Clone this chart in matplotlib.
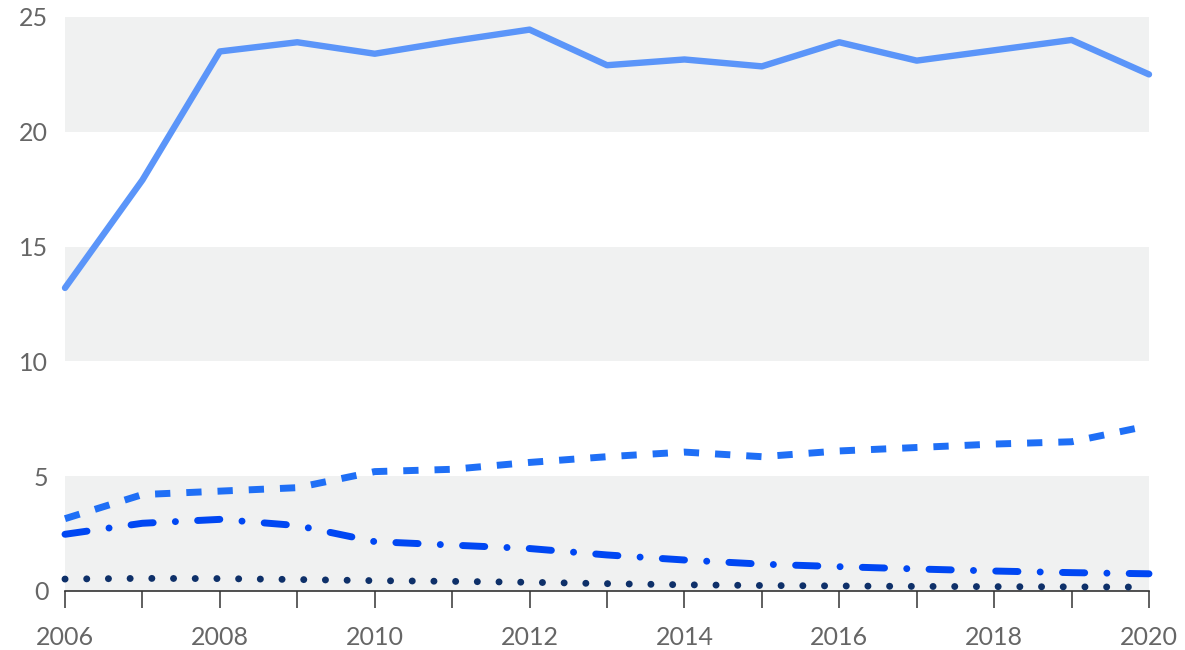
import matplotlib.pyplot as plt
import numpy as np

years = list(range(2006, 2021))

# values
series_solid = [13.2, 17.9, 23.5, 23.9, 23.4, 23.95, 24.45, 22.9, 23.15, 22.85, 23.9, 23.1, 23.55, 24.0, 22.5]
series_dashed = [3.15, 4.2, 4.35, 4.5, 5.2, 5.3, 5.6, 5.85, 6.05, 5.85, 6.1, 6.25, 6.4, 6.5, 7.2]
series_dashdot = [2.47, 2.95, 3.12, 2.85, 2.15, 2.0, 1.85, 1.57, 1.35, 1.17, 1.06, 0.96, 0.87, 0.8, 0.75]
series_dotted = [0.52, 0.55, 0.54, 0.5, 0.45, 0.42, 0.38, 0.32, 0.27, 0.24, 0.22, 0.2, 0.19, 0.18, 0.17]

y_ticks = [0, 5, 10, 15, 20, 25]
x_labels = [2006, 2008, 2010, 2012, 2014, 2016, 2018, 2020]

plt.rcParams['font.family'] = ['Lato', 'DejaVu Sans']

fig = plt.figure(figsize=(11.85, 6.5), dpi=100)
ax = fig.add_axes([65 / 1185, 1 - 591 / 650, (1149 - 65) / 1185, (591 - 17) / 650])

# grey bands every other 5 units
for lo in [0, 10, 20]:
    ax.axhspan(lo, lo + 5, color='#f0f1f1', lw=0, zorder=0)

ax.plot(years, series_solid, color='#5b95f9', lw=4.6, solid_capstyle='round',
        solid_joinstyle='round', zorder=3, clip_on=False)
ax.plot(years, series_dashed, color='#1f6ff6', lw=5, dash_capstyle='butt',
        dashes=(2.2, 2.3), zorder=3, clip_on=False)
ax.plot(years, series_dashdot, color='#0047f3', lw=5, dash_capstyle='round',
        dashes=(3.2, 3.2, 0.01, 3.2), zorder=3, clip_on=False)
ax.plot(years, series_dotted, color='#0e3069', lw=5, dash_capstyle='round',
        dashes=(0.01, 3.115), zorder=3, clip_on=False)

ax.set_xlim(2006, 2020)
ax.set_ylim(0, 25)

for s in ['top', 'right', 'left']:
    ax.spines[s].set_visible(False)
ax.spines['bottom'].set_color('#333333')
ax.spines['bottom'].set_linewidth(1.2)

ax.set_yticks(y_ticks)
ax.set_yticklabels([str(v) for v in y_ticks])
ax.tick_params(axis='y', length=0, pad=12, labelsize=18, labelcolor='#666666')

ax.set_xticks(x_labels)
ax.set_xticks(years, minor=True)
ax.set_xticklabels([str(v) for v in x_labels])
ax.tick_params(axis='x', which='both', length=12, width=1.2, color='#444444',
               pad=13, labelsize=18, labelcolor='#666666')

fig.savefig('out.png', dpi=100)
